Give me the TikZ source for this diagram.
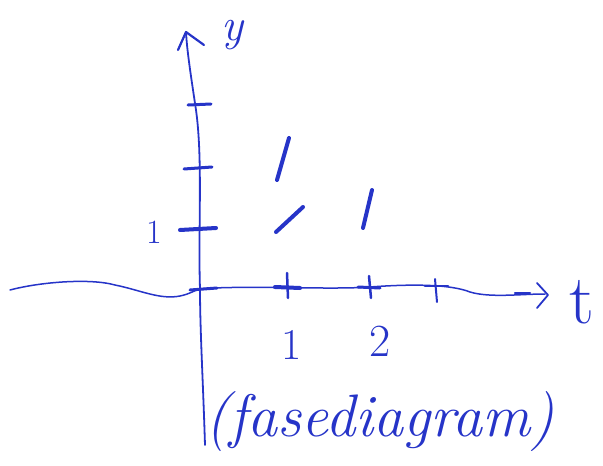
\documentclass[tikz,border=0pt]{standalone}
\usepackage{fontspec}
\definecolor{pen}{RGB}{38,52,200}
\tikzset{
  ink/.style={draw=pen, line width=1.8pt, line cap=round, line join=round},
  thick ink/.style={ink, line width=4pt},
  lbl/.style={text=pen, inner sep=0pt, font=\itshape\fontsize{30}{30}\selectfont},
}
\begin{document}
\begin{tikzpicture}[x=1pt,y=-1pt]
\useasboundingbox (0,0) rectangle (603,466);
% coordinates
\coordinate (ybot) at (205,445);
\coordinate (orig) at (200,289);
\coordinate (ytop) at (186,32);
\coordinate (tleft) at (10,290);
\coordinate (tend) at (545,294);
% y axis
\draw[ink] (ybot) .. controls (203,380) and (200,330) .. (orig)
  .. controls (198,230) and (203,160) .. (196,110) .. controls (190,70) and (187,50) .. (ytop);
\draw[ink, line width=2.2pt] (178,50) -- (ytop) -- (204,45);
% t axis (wavy)
\draw[ink, line width=1.5pt] (tleft) .. controls (40,282) and (90,278) .. (115,285)
  .. controls (140,290) and (160,300) .. (180,296) .. controls (190,294) and (195,290) .. (orig)
  .. controls (240,285) and (330,290) .. (370,287) .. controls (410,284) and (450,284) .. (470,292)
  .. controls (490,298) and (520,294) .. (tend);
\draw[ink, line width=2.5pt] (515,293) -- (530,293);
\draw[ink] (537,283) -- (548,295) -- (537,308);
% y ticks
\draw[thick ink, line width=3pt] (188,105) -- (211,104);
\draw[thick ink, line width=3pt] (184,169) -- (212,167);
\draw[thick ink] (180,230) -- (216,228);
\draw[thick ink, line width=3pt] (190,290) -- (217,288);
% t ticks
\draw[ink, line width=2.5pt] (287,273) -- (288,298);
\draw[thick ink] (275,287) -- (300,288);
\draw[ink, line width=2.5pt] (369,276) -- (371,298);
\draw[thick ink, line width=3pt] (358,287) -- (380,288);
\draw[ink, line width=2pt] (435,279) -- (437,302);
\draw[ink, line width=2.5pt] (425,286) -- (448,286);
% slope marks
\draw[thick ink] (289,138) -- (277,180);
\draw[thick ink] (303,207) -- (276,232);
\draw[thick ink] (372,190) -- (363,228);
% labels
\node[lbl, font=\itshape\fontsize{46}{46}\selectfont] (ylab) at (232,35) {y};
\node[lbl, font=\fontsize{70}{70}\selectfont] (tlab) at (582,302) {t};
\node[lbl, font=\fontsize{44}{44}\selectfont] (one) at (292,345) {1};
\node[lbl, font=\fontsize{46}{46}\selectfont] (two) at (380,341) {2};
\node[lbl, font=\fontsize{34}{34}\selectfont] (yone) at (154,232) {1};
\node[lbl, font=\itshape\fontsize{60}{60}\selectfont] (cap) at (380,422) {(fasediagram)};
\end{tikzpicture}
\end{document}
